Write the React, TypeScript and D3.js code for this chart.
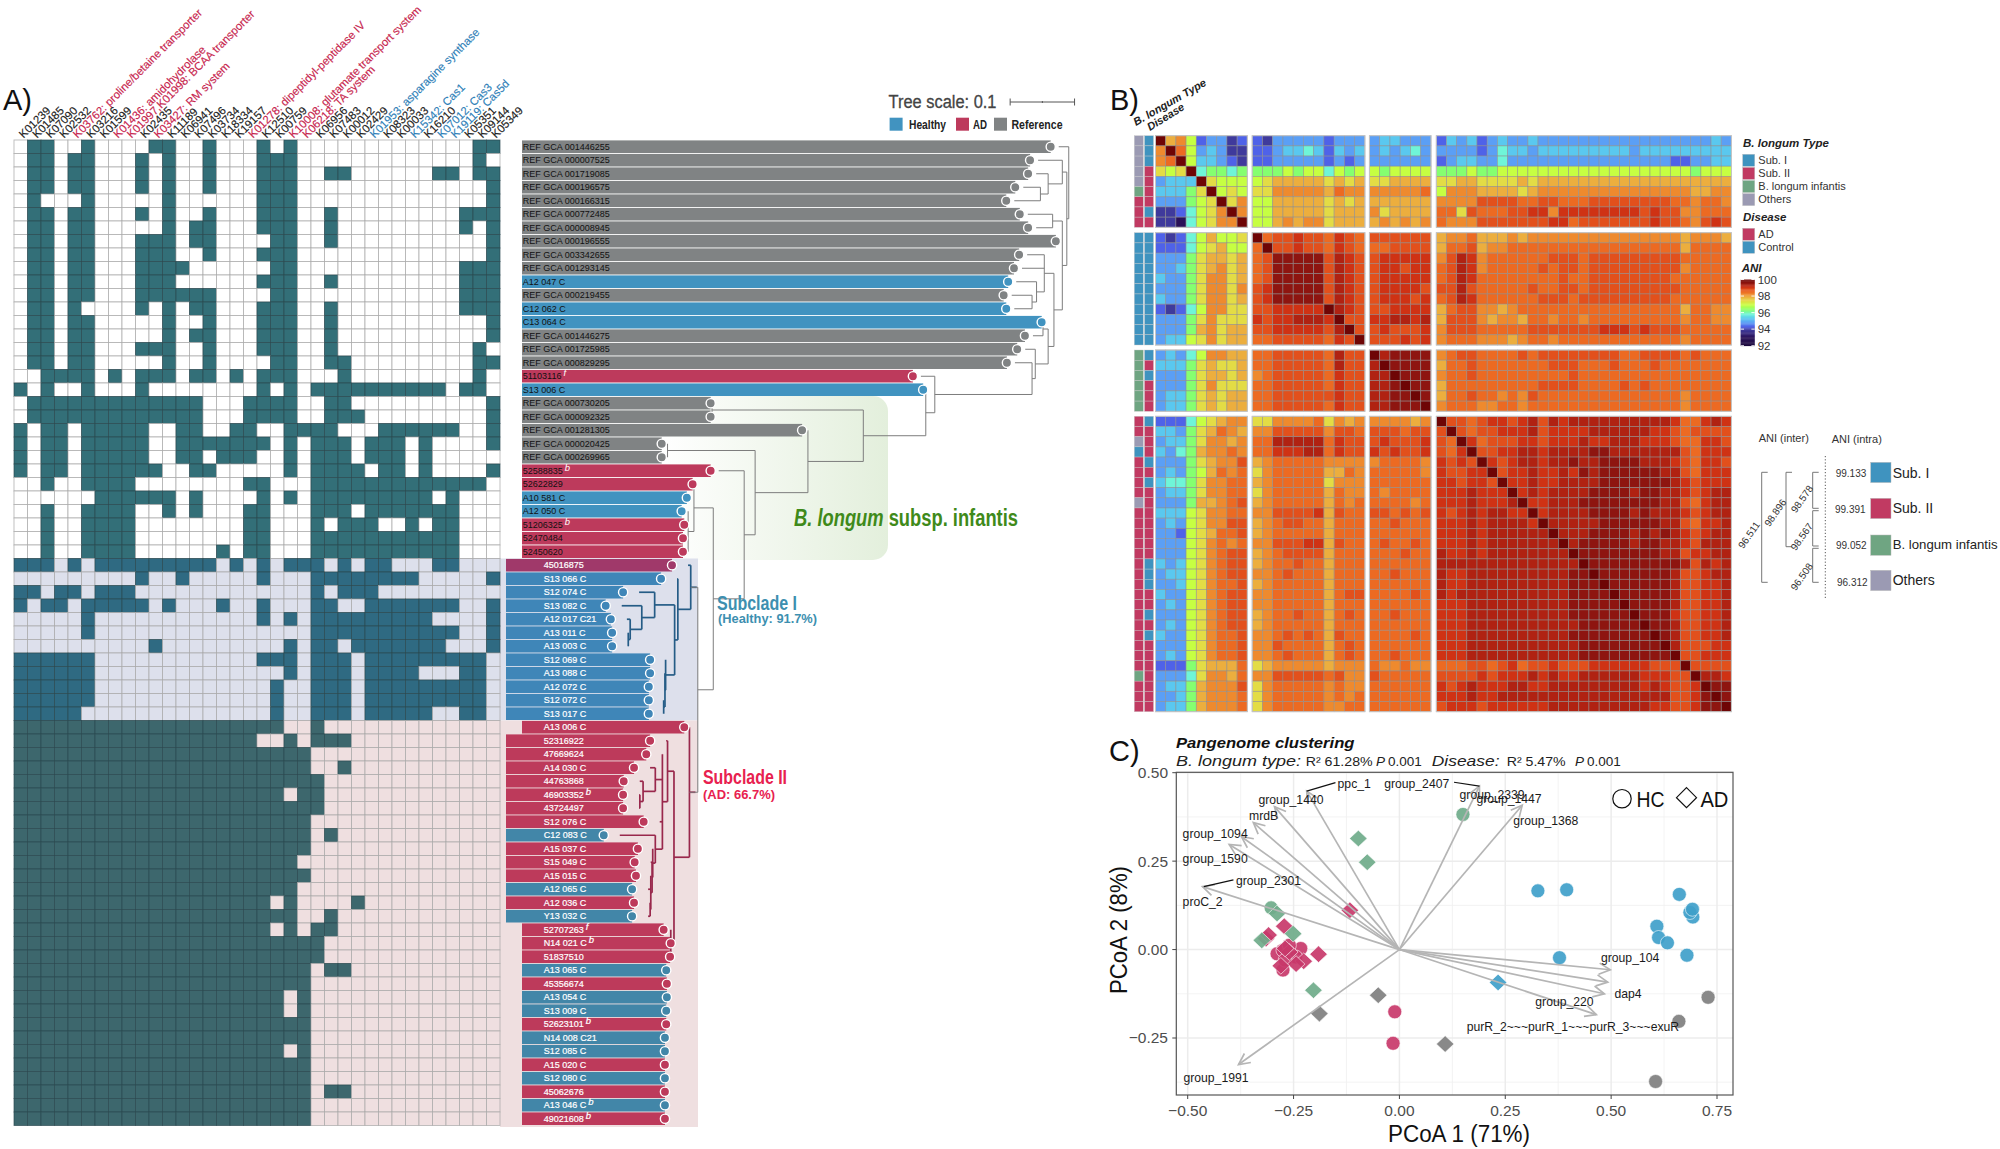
import React from "react";
import * as d3 from "d3";

const FONT = "'Liberation Sans', Arial, Helvetica, sans-serif";
const NARROW = "'Liberation Sans Narrow', 'Liberation Sans', Arial, sans-serif";

// ---------- Panel A data ----------
const geneLabels = ["K01239","K01485","K07090","K02532","K03762: proline/betaine transporter","K03216","K01599","K01436: amidohydrolase","K01997,K01998: BCAA transporter","K02435","K03427: RM system","K11189","K06941","K07496","K03734","K18334","K19157","K01278: dipeptidyl-peptidase IV","K12510","K00759","K10008: glutamate transport system","K06218: TA system","K06956","K07483","K00012","K02429","K01953: asparagine synthase","K08323","K00033","K15342: Cas1","K16210","K07012: Cas3","K19119: Cas5d","K05351","K09144","K05349"];
const geneRed = [4,7,8,10,17,20,21];
const geneBlue = [26,29,31,32];

// presence per genome row: list of column indices, ranges as [a,b]
type Cell = number | [number, number];
const presence: Cell[][] = [
  [1,2,5,10,11,14,18,20,34,35],
  [1,2,4,5,9,11,14,18,19,20,34],
  [1,2,4,5,9,11,14,18,19,20,23,24,31,32,34,35],
  [1,2,4,5,9,11,14,18,19,20,35],
  [1,5,11,18,19,20,35],
  [1,2,4,5,9,11,14,18,19,20,23,33,34,35],
  [1,2,4,5,11,13,14,18,19,20,23,33,35],
  [1,2,4,5,9,10,11,13,14,19,20,23,35],
  [1,2,4,5,9,10,11,14,18,19,20,35],
  [1,2,4,5,9,10,11,12,19,20,33,34,35],
  [1,2,4,5,9,10,11,18,19,20,23,33,34,35],
  [1,2,4,5,9,10,11,12,13,14,19,20,33,34,35],
  [1,2,4,9,11,13,14,18,19,20,23,33,34,35],
  [1,2,4,5,11,14,18,19,20,23,35],
  [1,2,4,5,11,13,14,18,19,20,23,35],
  [1,2,4,5,9,10,11,14,18,19,20,23,34],
  [1,2,4,5,11,14,19,20,23,24,34,35],
  [2,3,4,5,7,9,10,11,13,14,16,18,19,20,24,34],
  [0,2,5,9,18,20,[22,31],33,34],
  [[1,13],17,18,19,20,23,24,35],
  [[1,13],17,18,19,20,23,24,25,35],
  [0,2,3,5,6,7,8,9,12,13,16,17,20,21,22,23,[27,32],35],
  [0,2,3,5,6,7,8,9,12,13,14,15,16,17,18,20,22,23,24,26,27,28,30,35],
  [0,2,3,5,6,7,8,9,12,13,15,16,17,20,22,23,24,26,27,28,30],
  [0,2,3,5,6,7,8,9,10,13,14,20,22,23,24,25,27,28,30,35],
  [2,5,6,7,8,17,18,[22,34]],
  [6,7,8,9,10,11,13,18,20,[22,30],32],
  [2,5,6,7,8,11,13,17,18,22,23,24,[26,32]],
  [2,5,6,7,8,17,18,22,24,25,26,29,31,32],
  [2,5,6,7,8,17,18,[22,32]],
  [2,5,6,7,8,15,17,18,[22,32]],
  // Subclade I
  [0,1,2,4,[6,14],16,18,20,21,22,24,26,27,31,32],
  [9,12,18,[22,29],35],
  [0,1,3,4,6,7,8,22,24,25,26],
  [0,2,3,[5,9],11,15,18,22,23,[26,32],35],
  [5,18,20,[22,30],35],
  [5,[22,32],35],
  [10,20,22,23,[25,31],35],
  [[0,5],18,19,20,22,23,24,[26,34]],
  [[0,5],20,22,23,24,26,27,28,29,33,34],
  [[0,5],19,22,23,24,[26,34]],
  [[0,5],19,22,23,24,[26,34]],
  [[0,4],19,22,23,24,[26,30],33,34],
  // Subclade II
  [[0,19],22],
  [[0,17],20,22,23,24],
  [[0,21]],
  [[0,21],24],
  [[0,22]],
  [[0,19],21,22],
  [[0,22]],
  [[0,21]],
  [[0,21],23],
  [[0,21]],
  [[0,20]],
  [[0,21]],
  [[0,20]],
  [[0,18],20,25],
  [[0,20],23],
  [[0,18],20,22,23],
  [[0,22]],
  [[0,22]],
  [[0,21],23,24],
  [[0,21]],
  [[0,19],21],
  [[0,19],21],
  [[0,21]],
  [[0,21]],
  [[0,19],21],
  [[0,21]],
  [[0,21]],
  [[0,21],23,24],
  [[0,21]],
  [[0,21]],
];

const genomeLabels = ["REF GCA 001446255","REF GCA 000007525","REF GCA 001719085","REF GCA 000196575","REF GCA 000166315","REF GCA 000772485","REF GCA 000008945","REF GCA 000196555","REF GCA 003342655","REF GCA 001293145","A12 047 C","REF GCA 000219455","C12 062 C","C13 064 C","REF GCA 001446275","REF GCA 001725985","REF GCA 000829295","51103116","S13 006 C","REF GCA 000730205","REF GCA 000092325","REF GCA 001281305","REF GCA 000020425","REF GCA 000269965","52588835","52622829","A10 581 C","A12 050 C","51206325","52470484","52450620","45016875","S13 066 C","S12 074 C","S13 082 C","A12 017 C21","A13 011 C","A13 003 C","S12 069 C","A13 088 C","A12 072 C","S12 072 C","S13 017 C","A13 006 C","52316922","47669624","A14 030 C","44763868","46903352","43724497","S12 076 C","C12 083 C","A15 037 C","S15 049 C","A15 015 C","A12 065 C","A12 036 C","Y13 032 C","52707263","N14 021 C","51837510","A13 065 C","45356674","A13 054 C","S13 009 C","52623101","N14 008 C21","S12 085 C","A15 020 C","S12 080 C","45062676","A13 046 C","49021608"];
const genomeGroups = "RRRRRRRRRRHRHHRRRAHRRRRRAAHHAAA" + "AHHHHHHHHHHH" + "AAAAAAAAHAAAHAH" + "AAAHAHHAHHAHAHA";
const genomeTips = [.821,.789,.786,.766,.752,.773,.786,.829,.772,.764,.755,.748,.752,.807,.781,.769,.753,.607,.623,.293,.293,.435,.217,.217,.293,.265,.256,.248,.252,.25,.25,
  .233,.216,.157,.13,.138,.14,.14,.199,.199,.197,.197,.197,
  .252,.199,.193,.174,.158,.157,.157,.189,.127,.18,.175,.177,.171,.174,.171,.22,.231,.23,.224,.225,.225,.224,.224,.222,.222,.222,.222,.222,.222,.222];
const superscripts: Record<number,string> = {17:"f",24:"b",28:"b",48:"b",58:"f",59:"b",65:"b",71:"b",72:"b"};
const SEC1 = 31, SEC2 = 43, NROW = 73;
const insetRows = new Set([...d3.range(31,43), ...d3.range(44,58)]);

// tree: [distance, ...children]; a child is a row index or a nested clade
type Clade = (number | Clade)[];
const i7: Clade = [.165,36,37];
const i6: Clade = [.168,35,i7];
const i5: Clade = [.186,34,i6];
const i3: Clade = [.206,33,i5];
const i42: Clade = [.22,41,42];
const i41: Clade = [.222,39,40,i42];
const i4: Clade = [.223,38,i41];
const i2: Clade = [.237,i3,i4];
const i1: Clade = [.242,32,i2];
const subcladeI: Clade = [.262,31,i1];
const ii13: Clade = [.199,56,57];
const ii12: Clade = [.2,54,55,ii13];
const ii11: Clade = [.202,53,ii12];
const ii10: Clade = [.203,52,ii11];
const ii8: Clade = [.207,51,ii10];
const ii7: Clade = [.183,48,49];
const ii6: Clade = [.188,47,ii7];
const ii5: Clade = [.207,46,ii6];
const ii3: Clade = [.218,45,ii5,50,ii8];
const ii2: Clade = [.226,44,ii3];
const ii9: Clade = [.231,58,59,60];
const ii1: Clade = [.236,ii2,ii9];
const subcladeII: Clade = [.26,43,ii1];
const longumRoot: Clade = [.273,subcladeI,subcladeII];
const ae: Clade = [.258,27,28,29,30];
const ab: Clade = [.267,25,26,ae];
const aa: Clade = [.297,ab,longumRoot];
const z: Clade = [.345,24,aa];
const yc: Clade = [.226,22,23];
const xc: Clade = [.362,yc,z];
const w: Clade = [.444,21,xc];
const v: Clade = [.295,19,20];
const u: Clade = [.53,v,w];
const tc: Clade = [.627,18,u];
const rc: Clade = [.641,17,tc];
const q: Clade = [.792,16,rc];
const o: Clade = [.797,15,q];
const n: Clade = [.809,13,14];
const j: Clade = [.817,n,o];
const m: Clade = [.792,11,12];
const l: Clade = [.799,10,m];
const ic: Clade = [.811,8,9,l];
const h: Clade = [.826,ic,j];
const g: Clade = [.824,5,6];
const f: Clade = [.839,g,7,h];
const dc: Clade = [.805,3,4];
const cc: Clade = [.817,2,dc];
const bc: Clade = [.839,1,cc];
const ec: Clade = [.846,bc,f];
const refTree: Clade = [.849,0,ec];

// ---------- Panel B data ----------
const aniLevels: Record<string,number> = {"0":93,"1":93.9,"2":94.3,"3":94.8,"4":95.3,"5":95.8,"6":96.3,"7":96.9,"8":97.4,"9":97.9,a:98.2,b:98.5,c:98.8,d:99.05,e:99.3,f:99.55,g:100};
const aniRows = [
"g9a723312 21333332333 344333 2434234334 3333333333 333333343",
"agb734311 22344542434 343453 3333235443 4444444443 444444444",
"abg744321 22333332323 333333 2344335333 3333333333 333223344",
"878g56656 66676775767 767777 6667667777 7777777777 777776777",
"3444g8777 78999998989 889999 8899888898 9999999999 999999999",
"44468g787 88aaaaa9baa aaaaab 7aaa999989 aaaaaaaaaa aaaaa99aa",
"333678g8a 77999998989 999999 aaaaccccbb ccbbbccccc cccbbabba",
"112578aga 77999998999 a89999 bb8cbbbccd dadddddddd cdccaabbb",
"110578aag 779a9aa8999 9a9a9a baaacccccc cddbcccccc cdccbacdc",
"212579778 gbccdccbdcb cccccc 9aab999a9a aaaaaaaaaa aaaa9aaa9",
"222578977 bgccdccbdcb bbcccc 9bbc9aabbb bbbbbbbbbb bbbb9bbbb",
"333689989 bcfffffcedc cddddd acedabbbbb bcccbccccc ccccbbbbb",
"334689a89 bcfffffcedc cddcdd bcedabbbbb cbccbccccc ccccabbbb",
"43368aa89 bcfffffcedc cddddd bcedbbbbbb bbcbbccccc cccbbbbbb",
"33368aa8a cdfffffcedc cddddc ccecbbbbbc bbccbccccc ccccbbbbb",
"43368aa89 cdfffffcedc cdddcd bcedbbbbbb cccbcccccc cccbbbbbb",
"21257aa88 ccdddddgedc ccdddd 9bccaa9abb bbbbbbbbbb bbbb9bbaa",
"33368a888 dcddeeedgcc ddeede 9ccca9aa9b babbabbbbb bbbbabbaa",
"33369a899 ccdddddcegc cdcccd acccbbbbbc ccccccdddc dcccbbbbb",
"34478a899 bbcccccbdcg cccdcd abbbaaa9ab babbbbbbbb bbbbabbbb",
"34357aa99 bbcccccbecc geffff abccbbbbcb ccccccccbb ccccbcbbb",
"444689889 bbcccccbecc egffff 9bbcbbbbbb bcccbbbcbb bcbbbbbbb",
"333689989 abcccccbdcc eegfff abbcbbbbbb bbbcbbbbbb bbbbbbbbb",
"33368a888 bbcccccbdcc eefgff 9bbbbbbbbb ccccbbbbcb cbbbbbbbb",
"344689899 bbccccccdcc eeffgf 9bbcbbabac bbbbbbbbbb bbbbabbbb",
"344689899 bbcccccbdcc eefffg abbbaabbab bbbbbbbbbb bbbbabbbb",
"2225789aa 88aaaab8a9a aaaa9a gccbcddcde cedeeeeeee eeedbbded",
"443689ba9 aacccccaccb cccbcc cgcbccddde cddddeeeee eddcbcccc",
"34468aa9a bbeeeeebdcc cdcccd cbgdbcccdd cdddeddeee dddcbbddc",
"43569aaba bbdddeebdcc dcdccd cbdgccddee deeeeffeee eeeecbddd",
"333689aac 9abbbbbaaaa abbbba dcdcgdcdee deefeeffff eeedcbddc",
"343679bab 8abbbbb99ba bbbbba dccddgcdde ddedfeffff ffeecbddd",
"45568aabb 9abbbbb8aaa bbbbbb ddcddcgdde ddeeeeffff fffedcddd",
"34468aabb 8abbbbb9baa babbbb dddedddgde deeeeffffe ffeedcdee",
"333699abc 9abbbbb9bab bbbbab dddedddegd deeeffffff ffeecbdee",
"44478aabb aaccccd9cbb ccbcbc dcdedeeddg deeeeffffe feeedcdee",
"34378aacc 9abccbb9bbb bbcbbb dddedeeeed geeeeeffff ffeecbdde",
"332789bbc 9abbbbb9bbb bbbbbb dddedeeeee egeeeffffe fefedcdee",
"33378abab aacccdd9cbb bcbbcb dddedeeeee eegefffffe ffeedceee",
"33378abcc 9abcccc9bbb bbbcbb eddedeeeee eeegffffff ffeecddee",
"43478abcc 9abbcbb9bbb bbbbbb eeeeeeeeee eeeegfffff ffffecede",
"34478abcc aabcbbb9bbb bbcbbb eddeeeeeee eeeffgffff fffeccdee",
"33478abbc 9abbbbb9bbb bbbbbb eddeeeeeee eeefffgfff fffeccdde",
"43378abcc aabbbbb9bcc bbbbcb edeeeeeeee eeeffffgff fffeccdde",
"34378abcc aabbbbb9bbb bbbbbb dddeeeeeee eeefffffgf fffeccdde",
"33378abcc 9abbcbb9bcb bbcbbb dddeeeeeee eeeffffffg fffdccdde",
"34378abcc 9abbbbb9bbb bbbbbb dddeeeeeee eeeeffffff gffeccdde",
"43378abbc aabcbcb9cbb bbbbcb dddeeeeeee eeefffffff fgfeccdde",
"33378abbc aacbbbb9bcb bbbbbb dddeeeeeee eeeeffffff ffgecccdd",
"34378abbc aabcbbb9bcb bbcbbb dddeeeeeee eeeeffffff fffgccddd",
"22268999b 89aaaaa9aaa baabaa bbbccbcdbc cdcccddddd dcccgcccc",
"33358aa9b aacccccbcaa cbbbbb ccccdcddde deddeeeeee dddccgeed",
"34469aaac 8abbbbbabaa bbbbbb dcdedddeed deeeeeeeee dedccdgff",
"33469aaab 8abbbbbabab bbbbbb dddeddeeee eeeeeeeeee eeeccdfgf",
"34469aaab 8abbbbbaabb bbbbbb cdddcddddd deeeeeeeee eddccdffg",
].map((s) => s.replace(/ /g, ""));
const aniBlockSizes = [9, 11, 6, 29];
const typeAnn = "OOOOOIAAA" + "SSSSSSSSSSS" + "IIIIII" + "AAOSAAAAO" + "AAAAAAAAAAAAAAAA" + "I" + "AAA";
const diseaseAnn = "CCCAAAACA" + "CCCCCCCCCCC" + "CACAAA" + "CAAACAC" + "AAAAAAA" + "CCCAACAC" + "AAAAAAA";
const aniStops: [number,string][] = [[92,"#1d0a3e"],[93,"#2a1258"],[93.9,"#3f3a9c"],[94.3,"#4f62e8"],[94.8,"#5b9ff5"],[95.3,"#5ac8ef"],[95.8,"#6ff5d8"],[96.3,"#85ff70"],[96.9,"#c6ff42"],[97.4,"#e3dc45"],[97.9,"#ecae3e"],[98.2,"#ee8a2e"],[98.5,"#ec6a22"],[98.8,"#e2501c"],[99.05,"#cf3214"],[99.3,"#b02212"],[99.55,"#8e1510"],[100,"#6e0505"]];
const aniTicks = [100, 98, 96, 94, 92];

const typeLegend = ["Sub. I","Sub. II","B. longum infantis","Others"];
const diseaseLegend = ["AD","Control"];
const intraValues = ["99.133","99.391","99.052","96.312"];

// ---------- Panel C data ----------
type Pt = [number, number, string, string];
const pcoaPoints: Pt[] = [
  [.729,-.135,"G","c"],[.66,-.203,"G","c"],[.605,-.373,"G","c"],
  [-.05,-.129,"G","d"],[-.189,-.181,"G","d"],[.108,-.267,"G","d"],
  [.327,.166,"B","c"],[.395,.169,"B","c"],[.661,.156,"B","c"],[.693,.092,"B","c"],[.686,.105,"B","c"],[.692,.114,"B","c"],[.608,.066,"B","c"],[.612,.034,"B","c"],[.633,.019,"B","c"],[.679,-.016,"B","c"],[.378,-.023,"B","c"],
  [.233,-.093,"B","d"],
  [-.011,-.176,"R","c"],[-.015,-.265,"R","c"],
  [-.289,-.012,"R","c"],[-.275,-.002,"R","c"],[-.233,.003,"R","c"],[-.26,.012,"R","c"],[-.275,-.058,"R","c"],[-.245,-.021,"R","c"],[-.27,-.03,"R","c"],
  [-.117,.111,"R","d"],[-.272,.066,"R","d"],[-.315,.031,"R","d"],[-.309,.041,"R","d"],[-.191,-.013,"R","d"],[-.226,-.033,"R","d"],[-.244,-.041,"R","d"],[-.28,-.046,"R","d"],[-.26,-.007,"R","d"],[-.27,.003,"R","d"],
  [.15,.382,"I","c"],[-.303,.118,"I","c"],
  [-.097,.314,"I","d"],[-.076,.247,"I","d"],[-.289,.102,"I","d"],[-.251,.045,"I","d"],[-.325,.026,"I","d"],[-.203,-.115,"I","d"],
];
const arrowTips: [number,number][] = [[-.38,-.325],[-.295,.404],[-.219,.448],[-.345,.359],[-.373,.319],[-.402,.297],[-.465,.178],[.189,.462],[.29,.408],[.498,-.057],[.492,-.092],[.484,-.125],[.465,-.184]];
const geneTextLabels: [string,number,number][] = [["ppc_1",-.146,.469],["group_1440",-.333,.423],["mrdB",-.355,.377],["group_1094",-.512,.327],["group_1590",-.512,.257],["group_2301",-.386,.195],["proC_2",-.512,.135],["group_2407",-.036,.47],["group_2339",.142,.438],["group_1447",.182,.426],["group_1368",.269,.364],["group_104",.476,-.023],["dap4",.508,-.125],["group_220",.321,-.148],["purR_2~~~purR_1~~~purR_3~~~exuR",.159,-.219],["group_1991",-.51,-.362]];
const leaderLines: [number,number,number,number][] = [[-.219,.448,-.151,.472],[.129,.473,.189,.462],[-.462,.178,-.392,.197]];
const pcoaTicksX = [-.5,-.25,0,.25,.5,.75];
const pcoaTicksY = [.5,.25,0,-.25];
const pcoaMinorX = [-.375,-.125,.125,.375,.625];
const pcoaMinorY = [.375,.125,-.125,-.375];

// ---------- helpers ----------
const BLUE = "#3f93bf", RED = "#c13a62", GREEN = "#6fa582", GREY = "#9b9ab3";
const annColor: Record<string,string> = {S:BLUE, A:RED, I:GREEN, O:GREY};
const annColorB: Record<string,string> = {A:RED, C:BLUE};
const ptColor: Record<string,string> = {G:"#7f7f7f", B:"#3f9fca", R:"#c8386a", I:"#6fab8a"};

const rowY = d3.scaleLinear().domain([0, NROW]).range([140, 1125.5]);
const colX = d3.scaleLinear().domain([0, 36]).range([14, 500]);
const treeX = d3.scaleLinear().domain([0, 1]).range([522, 1166]);

function cellsOf(row: Cell[]) {
  const out = new Set<number>();
  row.forEach((c) => { if (Array.isArray(c)) d3.range(c[0], c[1] + 1).forEach((i) => out.add(i)); else out.add(c); });
  return out;
}

type Seg = {x1:number;y1:number;x2:number;y2:number;k:string};
function layoutTree(node: Clade, k: string, segs: Seg[]): {x:number;y:number} {
  const style = node === subcladeI ? "I" : node === subcladeII ? "II" : k;
  const dist = node[0] as number;
  const kids = node.slice(1);
  const x = treeX(dist);
  const placed = kids.map((c) => {
    if (typeof c === "number") {
      const gap = c >= SEC1 ? 16 : 8;
      return { x: treeX(genomeTips[c]) + gap, y: rowY(c + 0.5) };
    }
    return layoutTree(c, style, segs);
  });
  const y1 = placed[0].y, y2 = placed[placed.length - 1].y;
  segs.push({ x1: x, y1, x2: x, y2, k: style });
  placed.forEach((p) => {
    if (p.x < x) segs.push({ x1: p.x, y1: p.y, x2: x, y2: p.y, k: style });
  });
  if (style !== k) segs.push({ x1: x, y1: (y1 + y2) / 2, x2: x + 6, y2: (y1 + y2) / 2, k: style });
  return { x, y: (y1 + y2) / 2 };
}

function PanelA() {
  const segs: Seg[] = [];
  layoutTree(refTree, "R", segs);
  const h = rowY(1) - rowY(0), w = colX(1) - colX(0);
  const secOf = (r: number) => (r < SEC1 ? 0 : r < SEC2 ? 1 : 2);
  const fillC = ["#336f78", "#2f6a82", "#3d676d"];
  const lightC = ["#ffffff", "#dde0ec", "#efdfe0"];
  const treeStyle: Record<string,[string,number]> = { R: ["#7d7d7d", 1], I: ["#255c86", 1.7], II: ["#99284c", 1.7] };
  const barColor = (r: number) => {
    const gr = genomeGroups[r];
    if (gr === "R") return "#808384";
    const s = secOf(r);
    if (s === 0) return gr === "H" ? "#4193c0" : "#bd3a5c";
    if (s === 1) return gr === "H" ? "#3f86b8" : "#a0396a";
    return gr === "H" ? "#4286a8" : "#bd3a5b";
  };
  return (
    <g fontFamily={FONT}>
      <defs>
        <linearGradient id="infantisGrad" x1="0" x2="1" y1="0" y2="0">
          <stop offset="0" stopColor="#ffffff" />
          <stop offset="1" stopColor="#e3efdc" />
        </linearGradient>
      </defs>
      <text x={3} y={110} fontSize={29} fill="#111">A)</text>
      {geneLabels.map((gl, i) => (
        <text key={gl} transform={`translate(${colX(i + 0.5)},136) rotate(-45)`} dy="0.35em" fontSize={11.3}
          stroke={geneRed.includes(i) ? "#c7254e" : geneBlue.includes(i) ? "#2f7fb8" : "#222"} strokeWidth={0.15}
          fill={geneRed.includes(i) ? "#c7254e" : geneBlue.includes(i) ? "#2f7fb8" : "#222"}>{gl}</text>
      ))}
      <rect x={660} y={396} width={228} height={164} rx={15} fill="url(#infantisGrad)" />
      <rect x={500} y={rowY(SEC1)} width={198} height={rowY(SEC2) - rowY(SEC1)} fill={lightC[1]} />
      <rect x={500} y={rowY(SEC2)} width={198} height={rowY(NROW) - rowY(SEC2) + 1.5} fill={lightC[2]} />
      {presence.map((row, r) => {
        const set = cellsOf(row);
        return d3.range(36).map((c) => (
          <rect key={`${r}-${c}`} x={colX(c)} y={rowY(r)} width={w} height={h}
            fill={set.has(c) ? fillC[secOf(r)] : lightC[secOf(r)]}
            stroke={set.has(c) ? "#2b4a50" : "#a9a9a9"} strokeOpacity={set.has(c) ? 0.75 : 0.8} strokeWidth={0.9} />
        ));
      })}
      {genomeLabels.map((lb, r) => {
        const x0 = insetRows.has(r) ? 506 : 522;
        const tip = treeX(genomeTips[r]);
        return <rect key={lb + r} x={x0} y={rowY(r) + 0.4} width={tip - x0} height={h - 0.9} fill={barColor(r)} />;
      })}
      {segs.map((s, i) => (
        <line key={i} x1={s.x1} y1={s.y1} x2={s.x2} y2={s.y2} stroke={treeStyle[s.k][0]} strokeWidth={treeStyle[s.k][1]} />
      ))}
      {genomeLabels.map((lb, r) => {
        const tip = treeX(genomeTips[r]);
        const y = rowY(r + 0.5);
        const white = r >= SEC1;
        return (
          <g key={"t" + r}>
            <circle cx={tip} cy={y} r={4.6} fill={barColor(r)} stroke="#fff" strokeWidth={1.4} />
            <text x={white ? 543.7 : 522.7} y={y} dy="0.35em" fontSize={9} fill={white ? "#fff" : "#111"} stroke={white ? "#fff" : "none"} strokeWidth={0.2}>
              {lb}
              {superscripts[r] && <tspan dx={2} dy={-3} fontStyle="italic" fontSize={9.5} fill="#fff">{superscripts[r]}</tspan>}
            </text>
          </g>
        );
      })}
      <text x={794} y={526} fontFamily={NARROW} fontSize={23} fontWeight={700} fill="#3f8a1a" textLength={224} lengthAdjust="spacingAndGlyphs">
        <tspan fontStyle="italic">B. longum</tspan> subsp. infantis
      </text>
      <text x={717} y={610} fontFamily={NARROW} fontSize={20} fontWeight={700} fill="#3d8fb0" textLength={80} lengthAdjust="spacingAndGlyphs">Subclade I</text>
      <text x={718} y={622.5} fontFamily={NARROW} fontSize={13.5} fontWeight={700} fill="#3d8fb0" textLength={99} lengthAdjust="spacingAndGlyphs">(Healthy: 91.7%)</text>
      <text x={703} y={784} fontFamily={NARROW} fontSize={20} fontWeight={700} fill="#e8214f" textLength={84} lengthAdjust="spacingAndGlyphs">Subclade II</text>
      <text x={703} y={798.5} fontFamily={NARROW} fontSize={13.5} fontWeight={700} fill="#e8214f" textLength={72} lengthAdjust="spacingAndGlyphs">(AD: 66.7%)</text>
      <text x={888.5} y={107.5} fontFamily={NARROW} fontSize={18} fill="#444" stroke="#444" strokeWidth={0.3} textLength={108} lengthAdjust="spacingAndGlyphs">Tree scale: 0.1</text>
      <line x1={treeX(0.758)} x2={treeX(0.858)} y1={102} y2={102} stroke="#555" strokeWidth={1} />
      {[0.758, 0.808, 0.858].map((t, i) => (
        <line key={t} x1={treeX(t)} x2={treeX(t)} y1={102 - (i === 1 ? 1 : 3.5)} y2={102 + (i === 1 ? 1 : 3.5)} stroke="#555" strokeWidth={1} />
      ))}
      {([["Healthy", 889.6, "#4193c0", 909, 37], ["AD", 956, "#bd3a5c", 973, 14], ["Reference", 994, "#808384", 1011.5, 51]] as [string, number, string, number, number][]).map(([t, x, c, tx, tl]) => (
        <g key={t}>
          <rect x={x} y={117.7} width={13} height={13} fill={c} />
          <text x={tx} y={129} fontFamily={NARROW} fontWeight={700} fontSize={13.5} fill="#222" textLength={tl} lengthAdjust="spacingAndGlyphs">{t}</text>
        </g>
      ))}
    </g>
  );
}

function PanelB() {
  const xExt: [number,number][] = [[1155.5,1247.3],[1252.2,1364.9],[1369.4,1431],[1436.3,1731.4]];
  const yExt: [number,number][] = [[135.7,227.3],[232.7,345],[350,411.3],[416.3,711.7]];
  const color = d3.scaleLinear<string>().domain(aniStops.map((s) => s[0])).range(aniStops.map((s) => s[1]));
  const offs = aniBlockSizes.map((_, i) => d3.sum(aniBlockSizes.slice(0, i)));
  const xs = aniBlockSizes.map((nn, i) => d3.scaleBand<number>().domain(d3.range(nn)).range(xExt[i]));
  const ys = aniBlockSizes.map((nn, i) => d3.scaleBand<number>().domain(d3.range(nn)).range(yExt[i]));
  const yAni = d3.scaleLinear().domain([92, 100]).range([345.7, 279.5]);
  const ramp = d3.range(92, 100, 0.1);
  const swatch = (x: number, y: number, c: string, s = 12) => <rect x={x} y={y} width={s} height={s} fill={c} stroke="#bbb" strokeWidth={0.4} />;
  return (
    <g fontFamily={FONT}>
      <text x={1110} y={110} fontSize={29} fill="#111">B)</text>
      <text transform="translate(1136,126) rotate(-30)" fontSize={11} fontWeight={700} fontStyle="italic" fill="#222">B. longum Type</text>
      <text transform="translate(1150,131) rotate(-32)" fontSize={11} fontWeight={700} fontStyle="italic" fill="#222">Disease</text>
      {aniBlockSizes.map((nr, bi) => d3.range(nr).map((ri) => {
        const row = offs[bi] + ri;
        const y = ys[bi](ri)!, bh = ys[bi].bandwidth();
        return (
          <g key={row}>
            <rect x={1134.3} y={y} width={9} height={bh} fill={annColor[typeAnn[row]]} stroke="#c8c8c8" strokeWidth={0.4} />
            <rect x={1144.5} y={y} width={9} height={bh} fill={annColorB[diseaseAnn[row]]} stroke="#c8c8c8" strokeWidth={0.4} />
            {aniBlockSizes.map((nc, bj) => d3.range(nc).map((ci) => {
              const col = offs[bj] + ci;
              return <rect key={col} x={xs[bj](ci)} y={y} width={xs[bj].bandwidth()} height={bh}
                fill={color(aniLevels[aniRows[row][col]] ?? 98.5)} stroke="#8f8f8f" strokeOpacity={0.75} strokeWidth={0.7} />;
            }))}
          </g>
        );
      }))}
      {xExt.map((x, i) => yExt.map((y, k) => (
        <rect key={`${i}${k}`} x={x[0]} y={y[0]} width={x[1] - x[0]} height={y[1] - y[0]} fill="none" stroke="#c6c6c6" strokeWidth={1} />
      )))}
      <text x={1743} y={147} fontSize={11.5} fontWeight={700} fontStyle="italic" fill="#222">B. longum Type</text>
      {typeLegend.map((t, i) => (
        <g key={t}>
          {swatch(1742.7, 154.3 + i * 13.1, [BLUE, RED, GREEN, GREY][i])}
          <text x={1758.3} y={160.2 + i * 13.1} dy="0.35em" fontSize={11} fill="#333">{t}</text>
        </g>
      ))}
      <text x={1743} y={221} fontSize={11.5} fontWeight={700} fontStyle="italic" fill="#222">Disease</text>
      {diseaseLegend.map((t, i) => (
        <g key={t}>
          {swatch(1742.7, 228.3 + i * 13, [RED, BLUE][i])}
          <text x={1758.3} y={234.3 + i * 13} dy="0.35em" fontSize={11} fill="#333">{t}</text>
        </g>
      ))}
      <text x={1741.7} y={272.3} fontSize={11.5} fontWeight={700} fontStyle="italic" fill="#222">ANI</text>
      {ramp.map((val) => (
        <rect key={val} x={1740.7} y={yAni(val + 0.1)} width={14} height={yAni(val) - yAni(val + 0.1) + 0.4} fill={color(val)} />
      ))}
      {aniTicks.map((t) => (
        <g key={t}>
          <line x1={1740.7} x2={1744} y1={yAni(t)} y2={yAni(t)} stroke="#fff" strokeWidth={0.9} />
          <line x1={1751.4} x2={1754.7} y1={yAni(t)} y2={yAni(t)} stroke="#fff" strokeWidth={0.9} />
          <text x={1757.7} y={yAni(t)} dy="0.35em" fontSize={11.5} fill="#333">{t}</text>
        </g>
      ))}
      <text x={1758.7} y={437.7} dy="0.35em" fontSize={11} fill="#333">ANI (inter)</text>
      <text x={1831.7} y={439} dy="0.35em" fontSize={11} fill="#333">ANI (intra)</text>
      <line x1={1825.3} x2={1825.3} y1={456} y2={598.3} stroke="#444" strokeWidth={0.9} strokeDasharray="1.2 2" />
      {intraValues.map((val, i) => {
        const vy = [473, 509, 545.3, 582];
        const sy = [462.3, 498.3, 535, 570.3];
        const ly = [473, 508, 544, 580];
        return (
          <g key={val}>
            <text x={[1835.7, 1835, 1836, 1837][i]} y={vy[i]} dy="0.35em" fontSize={10} fill="#333">{val}</text>
            <rect x={1870.7} y={sy[i]} width={20.3} height={20.3} fill={[BLUE, RED, GREEN, GREY][i]} stroke="#bbb" strokeWidth={0.5} />
            <text x={1892.7} y={ly[i]} dy="0.35em" fontSize={i === 2 ? 13.2 : 14} fill="#222">{typeLegend[i]}</text>
          </g>
        );
      })}
      {([[1761.7, 472.3, 582.3], [1786, 472.3, 546.7], [1812.7, 472.3, 508.3], [1812.7, 510.7, 546], [1812.7, 548.3, 582.3]] as [number, number, number][]).map(([x, y1, y2]) => (
        <path key={`${x}${y1}`} d={`M${x + 6},${y1}H${x}V${y2}H${x + 6}`} fill="none" stroke="#777" strokeWidth={1} />
      ))}
      {([["96.511", 1749, 535], ["98.896", 1775.3, 512.7], ["98.578", 1802, 499], ["98.567", 1801.7, 536.7], ["96.508", 1801.7, 576.7]] as [string, number, number][]).map(([t, x, y]) => (
        <text key={t} transform={`translate(${x},${y}) rotate(-55)`} textAnchor="middle" dy="0.35em" fontSize={10} fill="#333">{t}</text>
      ))}
    </g>
  );
}

function PanelC() {
  const x = d3.scaleLinear().domain([-.5, .75]).range([1187.7, 1717]);
  const y = d3.scaleLinear().domain([.5, -.25]).range([772.7, 1038]);
  const L = 1176.3, R = 1733, T = 772.3, B = 1095;
  const fmt = d3.format(".2f");
  const x0 = x(0), y0 = y(0);
  return (
    <g fontFamily={FONT}>
      <text x={1109} y={761} fontSize={29} fill="#111">C)</text>
      <text x={1176} y={748} fontSize={15} fontWeight={700} fontStyle="italic" fill="#111" textLength={178.5} lengthAdjust="spacingAndGlyphs">Pangenome clustering</text>
      <g fill="#222">
        <text x={1176} y={766} fontSize={15} fontStyle="italic" textLength={125} lengthAdjust="spacingAndGlyphs">B. longum type:</text>
        <text x={1305.7} y={766} fontSize={13.5} textLength={67} lengthAdjust="spacingAndGlyphs">R² 61.28%</text>
        <text x={1376} y={766} fontSize={13.5} fontStyle="italic">P</text>
        <text x={1388} y={766} fontSize={13.5}>0.001</text>
        <text x={1431.8} y={766} fontSize={15} fontStyle="italic" textLength={67.7} lengthAdjust="spacingAndGlyphs">Disease:</text>
        <text x={1506.7} y={766} fontSize={13.5} textLength={59} lengthAdjust="spacingAndGlyphs">R² 5.47%</text>
        <text x={1575} y={766} fontSize={13.5} fontStyle="italic">P</text>
        <text x={1587} y={766} fontSize={13.5}>0.001</text>
      </g>
      <rect x={L} y={T} width={R - L} height={B - T} fill="#fff" />
      {pcoaMinorX.map((val) => <line key={val} x1={x(val)} x2={x(val)} y1={T} y2={B} stroke="#f0f0f0" strokeWidth={0.8} />)}
      {pcoaMinorY.map((val) => <line key={val} y1={y(val)} y2={y(val)} x1={L} x2={R} stroke="#f0f0f0" strokeWidth={0.8} />)}
      {pcoaTicksX.map((val) => <line key={val} x1={x(val)} x2={x(val)} y1={T} y2={B} stroke="#ececec" strokeWidth={1.5} />)}
      {pcoaTicksY.map((val) => <line key={val} y1={y(val)} y2={y(val)} x1={L} x2={R} stroke="#ececec" strokeWidth={1.5} />)}
      {pcoaPoints.map(([a, b, c, s], i) => {
        const px = x(a), py = y(b);
        return s === "c"
          ? <circle key={i} cx={px} cy={py} r={7} fill={ptColor[c]} fillOpacity={0.92} stroke="#fff" strokeOpacity={0.75} strokeWidth={0.8} />
          : <path key={i} d={`M${px},${py - 8.3}L${px + 8.8},${py}L${px},${py + 8.3}L${px - 8.8},${py}Z`} fill={ptColor[c]} fillOpacity={0.92} stroke="#fff" strokeOpacity={0.75} strokeWidth={0.8} />;
      })}
      {arrowTips.map(([a, b], i) => {
        const tx = x(a), ty = y(b);
        const ang = Math.atan2(ty - y0, tx - x0);
        const hd = 12.5, sp = 0.46;
        const p1 = [tx - hd * Math.cos(ang - sp), ty - hd * Math.sin(ang - sp)];
        const p2 = [tx - hd * Math.cos(ang + sp), ty - hd * Math.sin(ang + sp)];
        return (
          <g key={i} stroke="#b5b5b5" strokeWidth={1.7} fill="none">
            <line x1={x0} y1={y0} x2={tx} y2={ty} />
            <path d={`M${p1[0]},${p1[1]}L${tx},${ty}L${p2[0]},${p2[1]}`} />
          </g>
        );
      })}
      {leaderLines.map(([a, b, c, d], i) => (
        <line key={i} x1={x(a)} y1={y(b)} x2={x(c)} y2={y(d)} stroke="#111" strokeWidth={1.2} />
      ))}
      {geneTextLabels.map(([t, a, b]) => (
        <text key={t} x={x(a)} y={y(b)} dy="0.35em" fontSize={12.2} fill="#1a1a1a">{t}</text>
      ))}
      <circle cx={1622} cy={798.7} r={9.2} fill="none" stroke="#111" strokeWidth={1.2} />
      <text x={1636.5} y={806.5} fontSize={21.5} fill="#111" textLength={28} lengthAdjust="spacingAndGlyphs">HC</text>
      <path d="M1686.5,787.7L1696.5,797.7L1686.5,807.7L1676.5,797.7Z" fill="none" stroke="#111" strokeWidth={1.2} />
      <text x={1700.4} y={806.5} fontSize={21.5} fill="#111" textLength={28} lengthAdjust="spacingAndGlyphs">AD</text>
      <rect x={L} y={T} width={R - L} height={B - T} fill="none" stroke="#555" strokeWidth={1.2} />
      {pcoaTicksX.map((val) => (
        <g key={val}>
          <line x1={x(val)} x2={x(val)} y1={B} y2={B + 4} stroke="#444" />
          <text x={x(val)} y={1111} dy="0.35em" textAnchor="middle" fontSize={15.5} fill="#4d4d4d">{fmt(val)}</text>
        </g>
      ))}
      {pcoaTicksY.map((val) => (
        <g key={val}>
          <line x1={L - 4} x2={L} y1={y(val)} y2={y(val)} stroke="#444" />
          <text x={1168} y={y(val)} dy="0.35em" textAnchor="end" fontSize={15.5} fill="#4d4d4d">{fmt(val)}</text>
        </g>
      ))}
      <text x={1459} y={1134} dy="0.35em" textAnchor="middle" fontSize={23.5} fill="#111" textLength={142} lengthAdjust="spacingAndGlyphs">PCoA 1 (71%)</text>
      <text transform="translate(1118.8,930) rotate(-90)" dy="0.35em" textAnchor="middle" fontSize={23.5} fill="#111" textLength={128} lengthAdjust="spacingAndGlyphs">PCoA 2 (8%)</text>
    </g>
  );
}

export default function App() {
  return (
    <svg width={2000} height={1149} viewBox="0 0 2000 1149" style={{ position: "fixed", left: 0, top: 0, background: "#fff" }}>
      <rect width={2000} height={1149} fill="#fff" />
      <PanelA />
      <PanelB />
      <PanelC />
    </svg>
  );
}
